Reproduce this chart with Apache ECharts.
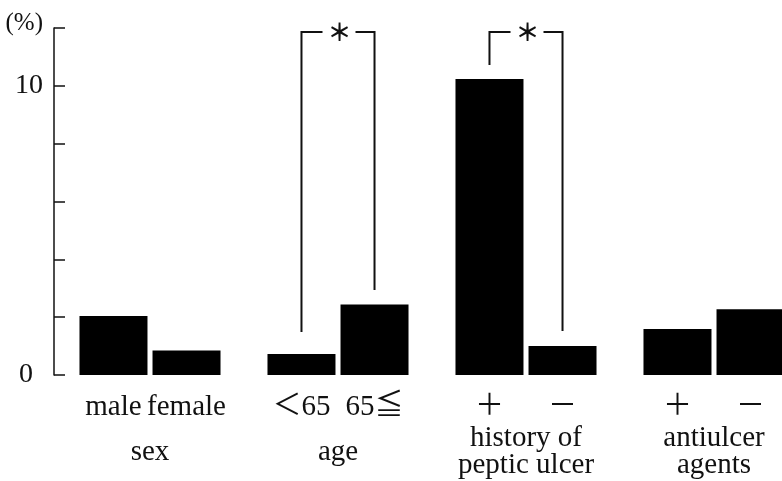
<!DOCTYPE html>
<html><head><meta charset="utf-8">
<script src="https://cdn.jsdelivr.net/npm/echarts@6/dist/echarts.min.js"></script>
<style>html,body{margin:0;padding:0;background:#fff}#c{width:782px;height:481px}</style>
</head><body><div id="c"></div>
<script>
// ---- data ----
const groups = ['sex', 'age', 'history of\npeptic ulcer', 'antiulcer\nagents'];
const firstLabels = ['male', '＜65', '＋', '＋'];
const secondLabels = ['female', '65≦', '－', '－'];
const firstValues = [2.04, 0.73, 10.24, 1.59];
const secondValues = [0.85, 2.44, 1.00, 2.27];
const yTickLabels = { 0: '0', 10: '10', 12: '(%)' };
// significance brackets (group index, top level, leg ends in %)
const sigGroups = [1, 2];
const sigTop = [11.86, 11.86];
const sigLegFirst = [1.49, 10.72];
const sigLegSecond = [2.94, 1.52];
const sigMark = '＊';

const FONT = "'Liberation Serif','Noto Sans CJK JP',serif";
const chart = echarts.init(document.getElementById('c'), null, { renderer: 'canvas' });

const barLabel = (names) => ({
  show: true, position: 'bottom', distance: 18,
  formatter: (p) => names[p.dataIndex],
  color: '#111', fontFamily: FONT, fontSize: 29
});

chart.setOption({
  animation: false,
  backgroundColor: '#fff',
  grid: { left: 56, top: 28, width: 752, bottom: 106, containLabel: false, outerBoundsMode: 'none' },
  xAxis: {
    type: 'category', data: groups,
    axisLine: { show: false }, axisTick: { show: false },
    axisLabel: {
      interval: 0, margin: 77, verticalAlign: 'middle', hideOverlap: false,
      color: '#111', fontFamily: FONT, fontSize: 29, lineHeight: 27
    }
  },
  yAxis: {
    type: 'value', min: 0, max: 12, interval: 2, offset: 2,
    splitLine: { show: false },
    axisLine: { show: true, lineStyle: { color: '#111', width: 1.5 } },
    axisTick: { show: true, inside: true, length: 11, lineStyle: { color: '#111', width: 1.5 } },
    axisLabel: {
      margin: 11, color: '#111', fontFamily: FONT, fontSize: 28,
      formatter: (v) => {
        if (v === 0) return '{z|' + yTickLabels[0] + '}';
        if (v === 12) return '{p|' + yTickLabels[12] + '}';
        return yTickLabels[v] || '';
      },
      rich: {
        z: { fontFamily: FONT, fontSize: 28, color: '#111', padding: [0, 10, 0, 0] },
        p: { fontFamily: FONT, fontSize: 25, color: '#111', padding: [0, 0, 10, 0] }
      }
    }
  },
  series: [
    { type: 'bar', data: firstValues, barWidth: 68, barGap: '7.4%',
      itemStyle: { color: '#000' }, label: barLabel(firstLabels) },
    { type: 'bar', data: secondValues, barWidth: 68,
      itemStyle: { color: '#000' }, label: barLabel(secondLabels) }
  ]
});

// brackets placed from the bars' own layout
const d0 = chart.getModel().getSeriesByIndex(0).getData();
const d1 = chart.getModel().getSeriesByIndex(1).getData();
const yPix = (v) => chart.convertToPixel({ yAxisIndex: 0 }, v);
const elements = [];
sigGroups.forEach((g, k) => {
  const l0 = d0.getItemLayout(g), l1 = d1.getItemLayout(g);
  const x1 = l0.x + l0.width / 2, x2 = l1.x + l1.width / 2;
  const yt = yPix(sigTop[k]);
  const ya = yPix(sigLegFirst[k]), yb = yPix(sigLegSecond[k]);
  const mid = (x1 + x2) / 2 + 1.5;
  const ls = { stroke: '#111', lineWidth: 2, fill: null };
  elements.push({ type: 'polyline', shape: { points: [[x1, ya], [x1, yt], [mid - 17, yt]] }, style: ls });
  elements.push({ type: 'polyline', shape: { points: [[mid + 16, yt], [x2, yt], [x2, yb]] }, style: ls });
  elements.push({ type: 'text', x: mid, y: yt, style: {
    text: sigMark, fill: '#111', font: "bold 24px 'Noto Sans CJK JP'", align: 'center', verticalAlign: 'middle' } });
});
chart.setOption({ graphic: { elements } });
</script>
</body></html>
